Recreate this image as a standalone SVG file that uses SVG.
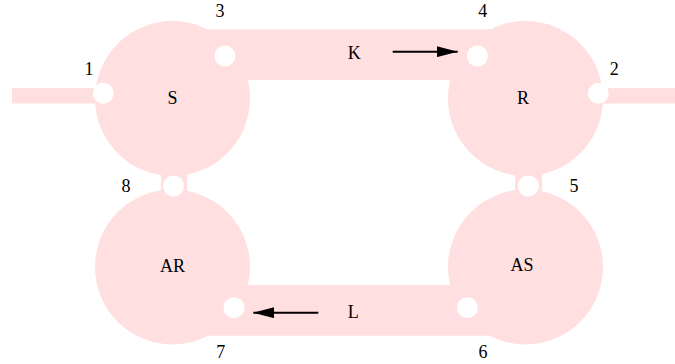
<svg xmlns="http://www.w3.org/2000/svg" width="675" height="364" viewBox="0 0 675 364">
<defs>
<style>
.body{fill:#ffdfe0}
.port{fill:#ffffff}
.arr{stroke:#000;stroke-width:2;fill:none}
</style>
<marker id="ah" viewBox="0 0 21 11" refX="21" refY="5.5" markerWidth="21" markerHeight="11" markerUnits="userSpaceOnUse" orient="auto">
<path d="M0,0 L21,5.5 L0,11 Z" fill="#000"/>
</marker>
</defs>
<rect width="675" height="364" fill="#fff"/>
<g id="channels" class="body">
<rect x="12" y="88" width="90" height="15.5"/>
<rect x="598" y="88" width="77" height="15.5"/>
<rect x="173" y="29.3" width="353" height="50.7"/>
<rect x="173" y="285" width="353" height="50.7"/>
<rect x="161" y="170" width="26" height="30"/>
<rect x="515" y="170" width="27" height="30"/>
</g>
<g font-family="'Liberation Serif', 'Times New Roman', Times, serif" font-size="18" fill="#000" text-anchor="middle">
<g id="node-S"><circle class="body" cx="172.5" cy="98.5" r="77.5"/><text x="172.5" y="103.5">S</text></g>
<g id="node-R"><circle class="body" cx="525.5" cy="98.5" r="77.5"/><text x="523" y="103.5">R</text></g>
<g id="node-AR"><circle class="body" cx="172.5" cy="267" r="77.5"/><text x="172.5" y="272">AR</text></g>
<g id="node-AS"><circle class="body" cx="525.5" cy="267" r="77.5"/><text x="522" y="271">AS</text></g>
<g id="ports" class="port">
<circle cx="103.3" cy="93.3" r="10.5"/>
<circle cx="598.3" cy="93.3" r="10.5"/>
<circle cx="225" cy="56" r="10.5"/>
<circle cx="477.3" cy="56" r="10.5"/>
<circle cx="528.3" cy="186" r="10.5"/>
<circle cx="467.3" cy="307.7" r="10.5"/>
<circle cx="234" cy="307.7" r="10.5"/>
<circle cx="173.5" cy="186" r="10.5"/>
</g>
<g id="port-labels">
<text x="89" y="75">1</text>
<text x="614.3" y="75">2</text>
<text x="220" y="16.5">3</text>
<text x="482.7" y="16.5">4</text>
<text x="574" y="191.5">5</text>
<text x="483" y="358">6</text>
<text x="220.7" y="358">7</text>
<text x="126" y="191.5">8</text>
<text x="354.3" y="58.5">K</text>
<text x="353.3" y="317.5">L</text>
</g>
</g>
<g id="connectors">
<line class="arr" x1="392.7" y1="51.7" x2="457.7" y2="51.7" marker-end="url(#ah)"/>
<line class="arr" x1="318.3" y1="312.7" x2="253.3" y2="312.7" marker-end="url(#ah)"/>
</g>
</svg>
